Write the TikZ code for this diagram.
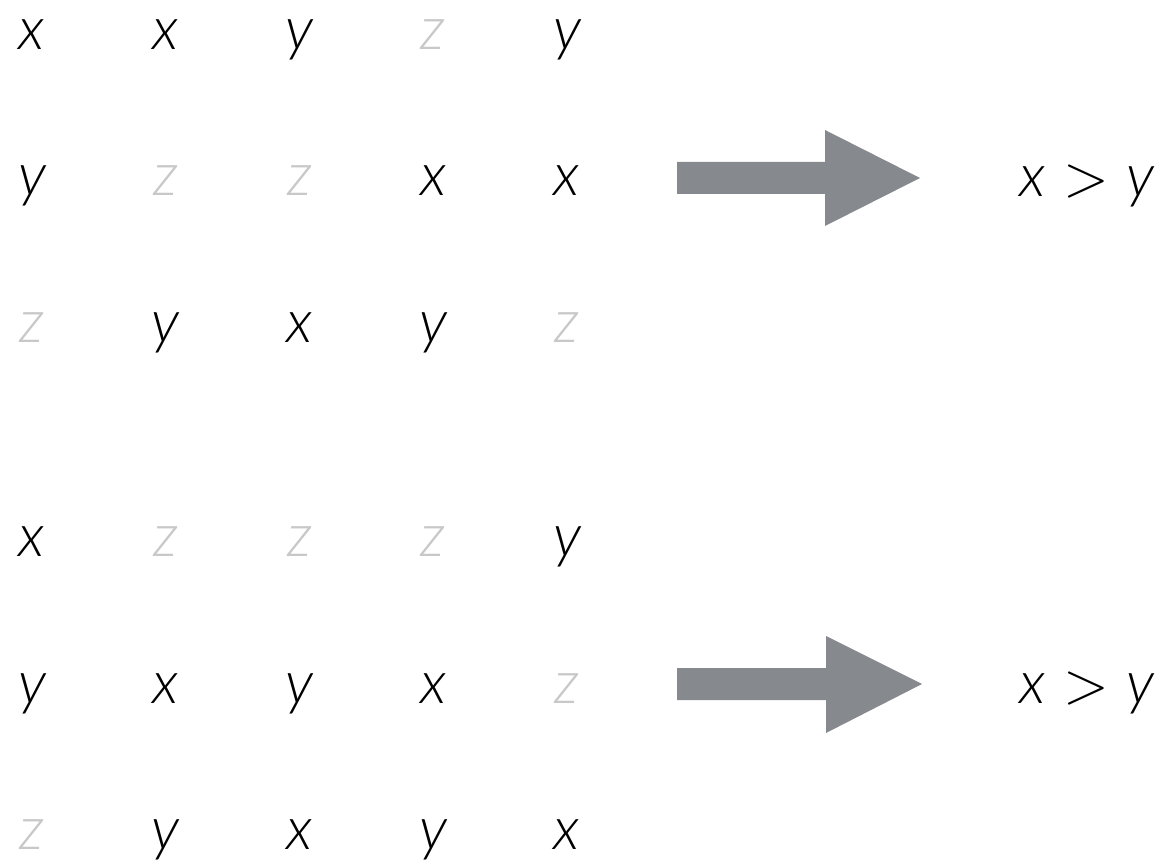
\documentclass[tikz,border=0pt]{standalone}
\usepackage{fontspec}
\setmainfont{Lato}[UprightFont=* Light, ItalicFont=* Light Italic]
\newfontfamily\relfont{Latin Modern Roman}

\definecolor{zgray}{HTML}{C8C8C8}
\definecolor{arrowgray}{HTML}{86898D}

\tikzset{
  lett/.style={anchor=base, inner sep=0pt, font=\fontsize{60}{62}\selectfont\itshape},
  faint/.style={lett, text=zgray},
  bigarrow/.style={fill=arrowgray, draw=none},
}

\begin{document}
\begin{tikzpicture}[x=1pt,y=-1pt]
\useasboundingbox (0,0) rectangle (1162,866);
% upper block:
\foreach \l/\s [count=\i] in {x/lett,x/lett,y/lett,z/faint,y/lett}
  \node[\s] (a1\i) at ({32+133.75*(\i-1)},50) {\l};
\foreach \l/\s [count=\i] in {y/lett,z/faint,z/faint,x/lett,x/lett}
  \node[\s] (a2\i) at ({32+133.75*(\i-1)},196) {\l};
\foreach \l/\s [count=\i] in {z/faint,y/lett,x/lett,y/lett,z/faint}
  \node[\s] (a3\i) at ({32+133.75*(\i-1)},343) {\l};
% lower block:
\foreach \l/\s [count=\i] in {x/lett,z/faint,z/faint,z/faint,y/lett}
  \node[\s] (b1\i) at ({32+133.75*(\i-1)},556) {\l};
\foreach \l/\s [count=\i] in {y/lett,x/lett,y/lett,x/lett,z/faint}
  \node[\s] (b2\i) at ({32+133.75*(\i-1)},703) {\l};
\foreach \l/\s [count=\i] in {z/faint,y/lett,x/lett,y/lett,x/lett}
  \node[\s] (b3\i) at ({32+133.75*(\i-1)},849) {\l};
% arrows:
\path[bigarrow] (677,162) -- (825,162) -- (825,130) -- (920,178)
  -- (825,226) -- (825,194) -- (677,194) -- cycle;
\path[bigarrow] (677,668) -- (826,668) -- (826,636) -- (922,684)
  -- (826,733) -- (826,700) -- (677,700) -- cycle;
% results:
\node[lett, anchor=base east] (resa) at (1155,197) {x\hspace{18pt}{\upshape\relfont >}\hspace{18pt}y};
\node[lett, anchor=base east] (resb) at (1155,703) {x\hspace{18pt}{\upshape\relfont >}\hspace{18pt}y};
\end{tikzpicture}
\end{document}
